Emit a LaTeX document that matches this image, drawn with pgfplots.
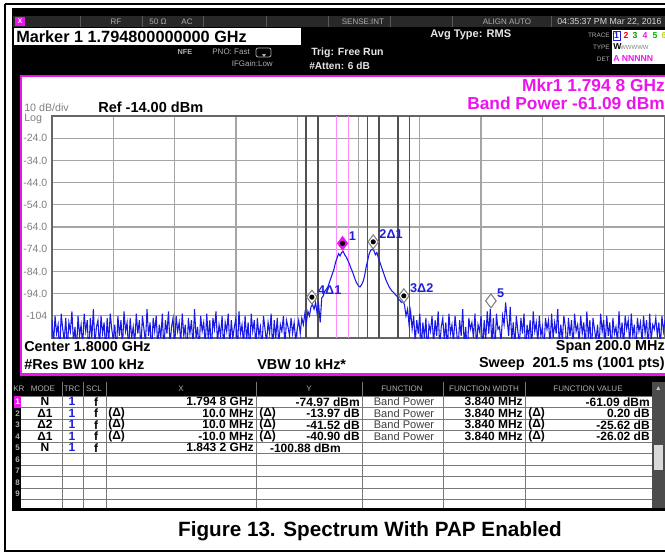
\documentclass[border=0pt]{standalone}
\usepackage{fontspec}
\setmainfont{Liberation Sans}
\usepackage{pgfplots}
\pgfplotsset{compat=1.18}
\definecolor{mag}{RGB}{235,20,235}
\definecolor{lmag}{RGB}{255,140,255}
\definecolor{trc}{RGB}{25,25,230}
\definecolor{gridc}{RGB}{165,165,165}
\definecolor{bandc}{RGB}{80,80,80}
\definecolor{hdr}{RGB}{40,40,40}
\definecolor{hgray}{RGB}{175,175,175}
\definecolor{lbl}{RGB}{30,30,220}
\definecolor{tline}{RGB}{120,120,120}
\newcommand{\fs}[1]{\fontsize{#1}{#1}\selectfont}

\begin{document}
\begin{tikzpicture}[x=0.75pt,y=-0.75pt]
\useasboundingbox (0,0) rectangle (665,554);
\fill[white] (0,0) rectangle (665,554);
% outer frame
\draw[black, line width=0.9pt] (5,4) -- (5,551) -- (667,551);
\draw[black, line width=0.9pt] (5,4) -- (667,4);
% screen
\fill[black] (12,8) rectangle (667,511);

% ---- status bar
\fill[hdr] (13,16) rectangle (667,27);
\foreach \x in {80,142,203,266,328,390,452,551} \draw[gray!70!black, line width=0.6pt] (\x,16) -- (\x,27);
\fill[mag] (15,17) rectangle (25,26);
\node[white, font=\fs{5pt}\bfseries] at (20,21.5) {X};
\begin{scope}[every node/.style={text=hgray, font=\fs{6pt}}]
\node at (116,21.5) {RF};
\node at (158,21.5) {50 Ω};
\node at (187,21.5) {AC};
\node at (363,21.5) {SENSE:INT};
\node at (507,21.5) {ALIGN AUTO};
\end{scope}
\node[anchor=west, text=gray!30, font=\fs{6.6pt}, inner sep=0] at (557,21.5) {04:35:37 PM Mar 22, 2016};

% ---- marker box
\fill[white] (14,28) rectangle (301,45);
\node[anchor=west, inner sep=0, font=\fs{12.2pt}\bfseries] at (16,36.5) {Marker 1 1.794800000000 GHz};
\node[text=hgray, font=\fs{5.5pt}\bfseries] at (185,52) {NFE};
\node[anchor=east, inner sep=0, text=hgray, font=\fs{6pt}] at (250,52) {PNO: Fast};
\node[anchor=east, inner sep=0, text=hgray, font=\fs{6pt}] at (273,64) {IFGain:Low};
\draw[hgray, line width=0.6pt, rounded corners=1.5pt] (256,48) rectangle (271,57);
\fill[hgray] (262,54) -- (266,54) -- (264,57) -- cycle;
\node[anchor=west, inner sep=0, text=gray!20, font=\fs{7.9pt}\bfseries] at (311,53) {Trig: Free Run};
\node[anchor=west, inner sep=0, text=gray!20, font=\fs{7.6pt}\bfseries] at (309,66) {\#Atten: 6 dB};
\node[anchor=west, inner sep=0, text=gray!20, font=\fs{8.3pt}\bfseries] at (430,35) {Avg Type: RMS};
\begin{scope}[every node/.style={anchor=east, inner sep=0, text=hgray, font=\fs{4.8pt}}]
\node at (610,35) {TRACE};
\node at (610,47) {TYPE};
\node at (610,59) {DET};
\end{scope}
\fill[white] (612,30) rectangle (667,64);
\draw[lbl, line width=0.5pt] (613,31) rectangle (620,40);
\begin{scope}[every node/.style={inner sep=0, font=\fs{6.5pt}\bfseries}]
\node[text=lbl] at (616.5,35.5) {1};
\node[text=red] at (626,35.5) {2};
\node[text=green!60!black] at (635,35.5) {3};
\node[text=mag] at (645,35.5) {4};
\node[text=green!70!black] at (655,35.5) {5};
\node[text=yellow!70!green] at (664,35.5) {6};
\node[anchor=west] at (613,47) {W};
\node[anchor=west, text=gray, font=\fs{4.5pt}] at (620,47.5) {WWWWW};
\node[anchor=west, text=mag] at (613,58.5) {A NNNNN};
\end{scope}

% ---- plot panel
\fill[white] (20,75) rectangle (670,376);
\draw[mag, line width=1.9pt] (21,76) rectangle (670,374.5);
\node[anchor=east, inner sep=0, text=mag, font=\fs{13pt}\bfseries] at (665,85.5) {Mkr1 1.794 8 GHz};
\node[anchor=east, inner sep=0, text=mag, font=\fs{13pt}\bfseries] at (665,103) {Band Power -61.09 dBm};
\node[anchor=west, inner sep=0, text=gray, font=\fs{8pt}] at (24,107.5) {10 dB/div};
\node[anchor=west, inner sep=0, text=gray, font=\fs{8pt}] at (24,118.5) {Log};
\node[anchor=west, inner sep=0, font=\fs{10.9pt}\bfseries] at (98,107.5) {Ref -14.00 dBm};
\node[anchor=west, inner sep=0, font=\fs{10.8pt}\bfseries] at (24,347) {Center 1.8000 GHz};
\node[anchor=west, inner sep=0, font=\fs{10.8pt}\bfseries] at (24,364) {\#Res BW 100 kHz};
\node[anchor=west, inner sep=0, font=\fs{10.8pt}\bfseries] at (257,364) {VBW 10 kHz*};
\node[anchor=east, inner sep=0, font=\fs{10.8pt}\bfseries] at (665,347) {Span 200.0 MHz};
\node[anchor=east, inner sep=0, font=\fs{10.8pt}\bfseries] at (665,364) {Sweep\ \ 201.5 ms (1001 pts)};

\coordinate (ax) at (52,116);
\begin{axis}[at={(ax)}, anchor=north west, scale only axis,
  width=459.75pt, height=166.5pt,
  xmin=-100, xmax=100, ymin=-114, ymax=-14,
  xtick={-80,-60,...,80}, xticklabel=\empty,
  ytick={-104,-94,...,-24},
  yticklabels={-104,-94.0,-84.0,-74.0,-64.0,-54.0,-44.0,-34.0,-24.0},
  yticklabel style={font=\fs{7.9pt}, text=gray},
  major tick length=0pt,
  grid=major, major grid style={gridc, line width=1pt},
  axis line style={gray!80!black, line width=1.3pt}]
% band power edges
\addplot[lmag, line width=1.1pt] coordinates {(-7.12,-114) (-7.12,-14)};
\addplot[lmag, line width=1.1pt] coordinates {(-3.28,-114) (-3.28,-14)};
\addplot[bandc, line width=1.1pt] coordinates {(2.88,-114) (2.88,-14)};
\addplot[bandc, line width=1.1pt] coordinates {(6.72,-114) (6.72,-14)};
\addplot[bandc, line width=1.1pt] coordinates {(12.88,-114) (12.88,-14)};
\addplot[bandc, line width=1.1pt] coordinates {(16.72,-114) (16.72,-14)};
\addplot[bandc, line width=1.1pt] coordinates {(-17.12,-114) (-17.12,-14)};
\addplot[bandc, line width=1.1pt] coordinates {(-13.28,-114) (-13.28,-14)};
% trace
\addplot[trc, line width=0.8pt] coordinates {
(-100,-106)(-99.5,-117)(-99,-104)(-98.5,-112)(-98,-108)(-97.5,-121)(-97,-103)(-96.5,-110)(-96,-115)(-95.5,-105)
(-95,-119)(-94.5,-107)(-94,-111)(-93.5,-102)(-93,-116)(-92.5,-109)(-92,-120)(-91.5,-104)(-91,-113)(-90.5,-108)
(-90,-118)(-89.5,-103)(-89,-111)(-88.5,-106)(-88,-122)(-87.5,-105)(-87,-114)(-86.5,-101)(-86,-117)(-85.5,-109)
(-85,-106)(-84.5,-119)(-84,-104)(-83.5,-112)(-83,-107)(-82.5,-120)(-82,-105)(-81.5,-116)(-81,-103)(-80.5,-110)
(-80,-115)(-79.5,-108)(-79,-121)(-78.5,-104)(-78,-113)(-77.5,-106)(-77,-118)(-76.5,-102)(-76,-111)(-75.5,-107)
(-75,-120)(-74.5,-105)(-74,-114)(-73.5,-109)(-73,-117)(-72.5,-103)(-72,-112)(-71.5,-106)(-71,-119)(-70.5,-104)
(-70,-110)(-69.5,-116)(-69,-101)(-68.5,-113)(-68,-107)(-67.5,-121)(-67,-105)(-66.5,-111)(-66,-104)(-65.5,-118)
(-65,-108)(-64.5,-114)(-64,-103)(-63.5,-120)(-63,-106)(-62.5,-112)(-62,-102)(-61.5,-117)(-61,-109)(-60.5,-105)
(-60,-119)(-59.5,-104)(-59,-111)(-58.5,-107)(-58,-116)(-57.5,-103)(-57,-113)(-56.5,-108)(-56,-122)(-55.5,-105)
(-55,-112)(-54.5,-106)(-54,-118)(-53.5,-101)(-53,-114)(-52.5,-109)(-52,-120)(-51.5,-104)(-51,-111)(-50.5,-107)
(-50,-117)(-49.5,-103)(-49,-115)(-48.5,-106)(-48,-121)(-47.5,-105)(-47,-110)(-46.5,-102)(-46,-116)(-45.5,-108)
(-45,-113)(-44.5,-104)(-44,-119)(-43.5,-107)(-43,-111)(-42.5,-103)(-42,-118)(-41.5,-106)(-41,-114)(-40.5,-109)
(-40,-105)(-39.5,-120)(-39,-102)(-38.5,-112)(-38,-108)(-37.5,-117)(-37,-104)(-36.5,-115)(-36,-107)(-35.5,-121)
(-35,-103)(-34.5,-111)(-34,-106)(-33.5,-118)(-33,-105)(-32.5,-113)(-32,-109)(-31.5,-119)(-31,-104)(-30.5,-110)
(-30,-116)(-29.5,-107)(-29,-112)(-28.5,-103)(-28,-120)(-27.5,-106)(-27,-114)(-26.5,-105)(-26,-117)(-25.5,-108)
(-25,-111)(-24.5,-104)(-24,-118)(-23.5,-106)(-23,-109)(-22.5,-113)(-22,-105)(-21.5,-112)(-21,-107)(-20.5,-115)
(-20,-110)(-19.5,-106)(-19,-112)(-18.5,-105)(-18,-108)(-17.5,-103)(-17,-107)(-16.5,-102)(-16,-104)(-15.5,-100)
(-15,-99)(-14.5,-101)(-14,-98)(-13.5,-103)(-13,-99)(-12.5,-107)(-12,-96)(-11.5,-95)(-11,-93)(-10.5,-92)
(-10,-91)(-9.5,-89)(-9,-87)(-8.5,-85)(-8,-83)(-7.5,-80)(-7,-78)(-6.5,-76)(-6,-77)(-5.5,-75.5)
(-5,-75)(-4.5,-76.5)(-4,-77.5)(-3.5,-79)(-3,-80.5)(-2.5,-82.5)(-2,-84)(-1.5,-86)(-1,-88)(-0.5,-89.5)
(0,-90.5)(0.5,-91)(1,-90)(1.5,-88.5)(2,-86)(2.5,-82)(3,-79)(3.5,-76)(4,-74.5)(4.5,-74)
(5,-74.5)(5.5,-76.5)(6,-75.5)(6.5,-78)(7,-80)(7.5,-82)(8,-84)(8.5,-86)(9,-88)(9.5,-89.5)
(10,-91)(10.5,-92)(11,-93)(11.5,-93.5)(12,-94.5)(12.5,-95)(13,-96.5)(13.5,-97)(14,-98)(14.5,-97.5)
(15,-99)(15.5,-104)(16,-101)(16.5,-108)(17,-102)
(17.5,-110)(18,-104)(18.5,-116)(19,-106)(19.5,-112)(20,-103)(20.5,-119)(21,-107)(21.5,-114)(22,-105)
(22.5,-121)(23,-108)(23.5,-111)(24,-104)(24.5,-117)(25,-106)(25.5,-113)(26,-102)(26.5,-118)(27,-109)
(27.5,-105)(28,-115)(28.5,-107)(29,-120)(29.5,-103)(30,-112)(30.5,-108)(31,-116)(31.5,-104)(32,-111)
(32.5,-119)(33,-106)(33.5,-113)(34,-101)(34.5,-117)(35,-109)(35.5,-122)(36,-105)(36.5,-110)(37,-107)
(37.5,-114)(38,-103)(38.5,-118)(39,-108)(39.5,-111)(40,-104)(40.5,-120)(41,-106)(41.5,-115)(42,-102)
(42.5,-112)(43,-101)(43.5,-117)(44,-105)(44.5,-121)(45,-103)(45.5,-110)(46,-109)(46.5,-116)(47,-104)
(47.5,-108)(48,-98)(48.5,-106)(49,-113)(49.5,-100)(50,-115)(50.5,-107)(51,-118)(51.5,-104)(52,-111)
(52.5,-117)(53,-105)(53.5,-112)(54,-103)(54.5,-120)(55,-108)(55.5,-114)(56,-106)(56.5,-119)(57,-102)
(57.5,-111)(58,-107)(58.5,-116)(59,-104)(59.5,-113)(60,-109)(60.5,-121)(61,-105)(61.5,-110)(62,-106)
(62.5,-118)(63,-103)(63.5,-114)(64,-107)(64.5,-112)(65,-101)(65.5,-117)(66,-108)(66.5,-115)(67,-104)
(67.5,-109)(68,-120)(68.5,-105)(69,-113)(69.5,-106)(70,-119)(70.5,-103)(71,-111)(71.5,-108)(72,-116)
(72.5,-104)(73,-112)(73.5,-107)(74,-118)(74.5,-102)(75,-114)(75.5,-106)(76,-121)(76.5,-105)(77,-110)
(77.5,-115)(78,-108)(78.5,-119)(79,-103)(79.5,-111)(80,-106)(80.5,-117)(81,-104)(81.5,-113)(82,-107)
(82.5,-120)(83,-105)(83.5,-112)(84,-109)(84.5,-116)(85,-102)(85.5,-114)(86,-107)(86.5,-118)(87,-104)
(87.5,-110)(88,-106)(88.5,-117)(89,-103)(89.5,-113)(90,-108)(90.5,-121)(91,-105)(91.5,-111)(92,-107)
(92.5,-116)(93,-104)(93.5,-112)(94,-106)(94.5,-119)(95,-103)(95.5,-115)(96,-108)(96.5,-110)(97,-105)
(97.5,-113)(98,-107)(98.5,-118)(99,-104)(99.5,-111)(100,-106)
};
% markers
\addplot[only marks, mark=diamond*, mark size=5.25pt,
  mark options={fill=mag, draw=mag, yshift=6pt}] coordinates {(-5.2,-74.97)};
\addplot[only marks, mark=diamond*, mark size=5.25pt,
  mark options={fill=white, draw=gray, line width=0.8pt, yshift=6pt}]
  coordinates {(4.8,-74.3) (14.8,-98.6) (-15.2,-99.2) (43.2,-100.88)};
\addplot[only marks, mark=*, mark size=1.7pt,
  mark options={fill=black, draw=black, yshift=6pt}]
  coordinates {(-5.2,-74.97) (4.8,-74.3) (14.8,-98.6) (-15.2,-99.2)};
\addplot[draw=none, mark=none, nodes near coords, point meta=explicit symbolic,
  nodes near coords style={anchor=west, text=lbl, font=\fs{9.5pt}\bfseries,
    inner sep=0pt, xshift=4.5pt, yshift=11.5pt}]
  coordinates {(-5.2,-74.97)[1] (4.8,-74.3)[2Δ1] (14.8,-98.6)[3Δ2]
    (-15.2,-99.2)[4Δ1] (43.2,-100.88)[5]};
\end{axis}

% ---- marker table
\fill[black] (12,376) rectangle (667,511);
\fill[white] (21,396) rectangle (652,508);
\fill[mag] (14,396) rectangle (21,407.5);
\foreach \y in {396,407.5,419,430.5,442,453.5,465,476.5,488,499.5}
  \draw[tline, line width=0.7pt] (21,\y) -- (652,\y);
\foreach \x in {62,83,106,256,362,443,525}
  \draw[tline, line width=0.7pt] (\x,382) -- (\x,508);
\fill[gray!60!black] (652,382) rectangle (665,508);
\fill[gray!30] (654,445) rectangle (663,470);
\node[text=gray!40, font=\fs{5pt}] at (658.5,389) {▲};
\begin{scope}[every node/.style={text=hgray, font=\fs{6pt}, inner sep=0}]
\node[anchor=west] at (13,389) {KR};
\node at (43,389) {MODE};
\node at (72,389) {TRC};
\node at (94,389) {SCL};
\node at (181,389) {X};
\node at (309,389) {Y};
\node at (402,389) {FUNCTION};
\node at (484,389) {FUNCTION WIDTH};
\node at (588,389) {FUNCTION VALUE};
\end{scope}
\foreach \i in {1,...,9}
  \node[text=hgray, font=\fs{6pt}\bfseries, inner sep=0] at (17.5,{401.75+11.5*(\i-1)}) {\i};
\node[text=white, font=\fs{6pt}\bfseries, inner sep=0] at (17.5,401.75) {1};
\begin{scope}[every node/.style={font=\fs{9pt}\bfseries, inner sep=0}]
% row 1
\node at (45,401.75) {N};
\node[text=lbl] at (72,401.75) {1};
\node at (96,401.75) {f};
\node[anchor=east] at (254,401.75) {1.794 8 GHz};
\node[anchor=east] at (360,401.75) {-74.97 dBm};
\node[anchor=east] at (523,401.75) {3.840 MHz};
\node[anchor=east] at (650,401.75) {-61.09 dBm};
% row 2
\node at (45,413.25) {Δ1};
\node[text=lbl] at (72,413.25) {1};
\node at (96,413.25) {f};
\node[anchor=west] at (108,413.25) {(Δ)};
\node[anchor=east] at (254,413.25) {10.0 MHz};
\node[anchor=west] at (259,413.25) {(Δ)};
\node[anchor=east] at (360,413.25) {-13.97 dB};
\node[anchor=east] at (523,413.25) {3.840 MHz};
\node[anchor=west] at (528,413.25) {(Δ)};
\node[anchor=east] at (650,413.25) {0.20 dB};
% row 3
\node at (45,424.75) {Δ2};
\node[text=lbl] at (72,424.75) {1};
\node at (96,424.75) {f};
\node[anchor=west] at (108,424.75) {(Δ)};
\node[anchor=east] at (254,424.75) {10.0 MHz};
\node[anchor=west] at (259,424.75) {(Δ)};
\node[anchor=east] at (360,424.75) {-41.52 dB};
\node[anchor=east] at (523,424.75) {3.840 MHz};
\node[anchor=west] at (528,424.75) {(Δ)};
\node[anchor=east] at (650,424.75) {-25.62 dB};
% row 4
\node at (45,436.25) {Δ1};
\node[text=lbl] at (72,436.25) {1};
\node at (96,436.25) {f};
\node[anchor=west] at (108,436.25) {(Δ)};
\node[anchor=east] at (254,436.25) {-10.0 MHz};
\node[anchor=west] at (259,436.25) {(Δ)};
\node[anchor=east] at (360,436.25) {-40.90 dB};
\node[anchor=east] at (523,436.25) {3.840 MHz};
\node[anchor=west] at (528,436.25) {(Δ)};
\node[anchor=east] at (650,436.25) {-26.02 dB};
% row 5
\node at (45,447.75) {N};
\node[text=lbl] at (72,447.75) {1};
\node at (96,447.75) {f};
\node[anchor=east] at (254,447.75) {1.843 2 GHz};
\node[anchor=east] at (341,447.75) {-100.88 dBm};
\end{scope}
\foreach \y in {401.75,413.25,424.75,436.25}
  \node[text=black!75, font=\fs{8.3pt}, inner sep=0] at (404,\y) {Band Power};

% ---- caption
\node[font=\fs{15.5pt}\bfseries, inner sep=0] at (370,531) {Figure 13. Spectrum With PAP Enabled};
\end{tikzpicture}
\end{document}
